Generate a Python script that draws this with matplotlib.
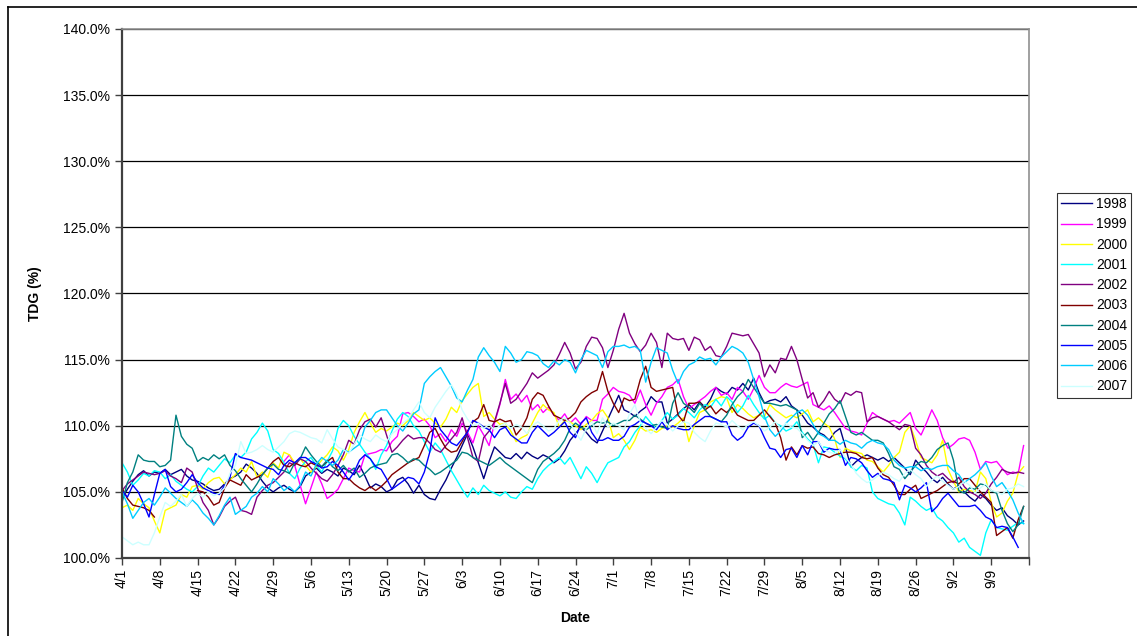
import matplotlib
matplotlib.use("Agg")
import matplotlib.pyplot as plt
import numpy as np
from matplotlib.lines import Line2D

nan = np.nan

# daily TDG (%) from 4/1, one row per week
years = ["1998", "1999", "2000", "2001", "2002", "2003", "2004", "2005", "2006", "2007"]
colors = ["#000080", "#FF00FF", "#FFFF00", "#00FFFF", "#800080",
          "#800000", "#008080", "#0000FF", "#00CCFF", "#CCFFFF"]

tick_labels = ["4/1", "4/8", "4/15", "4/22", "4/29", "5/6", "5/13", "5/20", "5/27",
               "6/3", "6/10", "6/17", "6/24", "7/1", "7/8", "7/15", "7/22", "7/29",
               "8/5", "8/12", "8/19", "8/26", "9/2", "9/9", ""]

y1998 = [
    104.5, 105.2, 105.8, 106.3, 106.6, 106.2, 106.5,
    106.4, 106.7, 106.3, 106.5, 106.7, 106.2, 105.9,
    105.8, 105.6, 105.3, 105.1, 105.2, 105.6, 106.0,
    106.2, 106.5, 107.1, 106.8, 106.4, 105.8, 105.3,
    105.0, 105.3, 105.5, 105.2, 105.0, 105.4, 106.2,
    106.5, 106.8, 106.4, 106.7, 106.5, 106.2, 106.8,
    106.6, 106.3, 107.0, 106.2, 105.3, 105.6, 105.4,
    105.0, 105.2, 105.9, 106.1, 105.6, 104.9, 105.5,
    104.8, 104.5, 104.4, 105.2, 105.9, 106.8, 107.6,
    108.5, 109.4, 108.4, 107.2, 106.0, 107.3, 108.4,
    108.0, 107.6, 107.5, 107.9, 107.5, 108.0, 107.7,
    107.5, 107.8, 107.6, 107.2, 107.5, 108.1, 108.9,
    109.4, 109.9, 109.5, 109.0, 108.7, 109.6, 110.5,
    111.4, 112.3, 111.2, 111.0, 110.7, 111.1, 111.4,
    112.2, 111.8, 111.8, 110.2, 110.5, 110.9, 111.3,
    111.6, 111.2, 111.8, 111.4, 112.0, 112.9, 112.6,
    112.4, 112.9, 112.7, 113.2, 112.7, 113.6, 112.5,
    111.7, 111.9, 112.0, 111.8, 112.2, 111.5, 111.2,
    110.8, 110.2, 109.9, 109.5, 109.3, 108.9, 109.5,
    109.8, 108.4, 106.9, 107.3, 107.6, 107.8, 107.6,
    107.4, 107.6, 107.3, 107.6, 107.2, 106.8, 106.3,
    107.4, 106.9, 106.5, 106.0, 105.7, 106.1, 105.6,
    105.2, 105.5, 105.0, 104.6, 104.3, 104.8, 104.5,
    104.0, 103.6, 103.8, 103.2, 102.9, 102.5, 102.8,
]

y1999 = [nan] * 30 + [
    107.3, 107.8, 107.0, 105.5, 104.1,
    105.3, 106.5, 105.6, 104.5, 104.8, 105.2, 106.0,
    106.8, 106.6, 106.5, 107.8, 107.9, 108.0, 108.2,
    108.1, 108.8, 109.2, 110.9, 111.0, 110.7, 110.3,
    110.5, 110.0, 109.1, 109.4, 108.8, 109.7, 109.2,
    110.2, 109.5, 108.7, 110.0, 109.3, 108.5, 110.2,
    111.6, 113.5, 112.0, 112.4, 111.8, 112.3, 111.2,
    111.6, 111.0, 111.4, 110.8, 110.4, 110.9, 110.2,
    110.6, 110.1, 110.7, 110.4, 110.4, 112.0, 112.4,
    112.9, 112.6, 112.5, 112.3, 111.7, 112.7, 111.6,
    110.8, 111.7, 112.2, 112.9, 113.1, 113.5, 112.2,
    111.3, 111.6, 111.9, 112.2, 112.6, 112.9, 112.3,
    112.5, 112.0, 112.9, 112.6, 112.0, 112.8, 113.8,
    112.9, 112.5, 112.5, 112.9, 113.2, 113.0, 112.9,
    113.1, 113.3, 111.6, 111.4, 111.2, 111.5, 111.0,
    110.4, 109.8, 109.6, 109.5, 109.3, 110.2, 111.0,
    110.7, 110.5, 110.3, 110.4, 110.2, 110.6, 111.0,
    109.8, 109.3, 110.2, 111.2, 110.4, 109.1, 108.3,
    108.6, 109.0, 109.1, 108.9, 108.0, 106.7, 107.3,
    107.2, 107.3, 106.8, 106.3, 106.5, 106.4, 108.5,
]

y2000 = [
    103.8, 104.0, 103.6, 104.5, 104.1, 103.8, 102.8,
    101.9, 103.6, 103.8, 104.0, 104.8, 104.6, 105.4,
    105.5, 105.2, 105.7, 106.0, 106.1, 105.6, 105.9,
    106.3, 106.8, 106.5, 107.3, 106.1, 106.5, 106.1,
    107.2, 106.8, 108.0, 107.8, 107.2, 107.5, 107.0,
    106.5, 106.9, 107.4, 107.8, 108.4, 108.1, 107.4,
    108.2, 109.5, 110.3, 111.0, 110.2, 109.5, 109.8,
    109.6, 109.9, 110.2, 110.0, 110.4, 111.0, 110.7,
    110.4, 110.6, 110.2, 109.9, 110.5, 111.4, 111.0,
    111.9, 112.4, 112.9, 113.2, 110.7, 111.0, 110.5,
    110.1, 110.2, 109.6, 108.8, 109.1, 109.3, 110.2,
    111.0, 111.6, 111.2, 111.0, 109.9, 110.4, 110.3,
    110.0, 109.7, 110.1, 110.4, 110.9, 111.2, 110.6,
    109.1, 109.4, 108.9, 108.2, 108.9, 109.9, 109.6,
    109.7, 109.5, 109.8, 110.0, 109.9, 110.2, 110.6,
    108.8, 110.0, 111.0, 111.2, 111.8, 112.0, 112.2,
    112.1, 111.0, 111.6, 111.3, 110.9, 110.6, 110.8,
    110.7, 111.6, 111.2, 110.9, 110.6, 110.8, 110.6,
    110.9, 111.2, 110.3, 110.6, 110.2, 109.9, 109.0,
    107.6, 108.3, 108.1, 108.0, 107.9, 107.4, 107.3,
    106.9, 106.5, 107.0, 107.6, 108.0, 109.5, 110.0,
    108.9, 107.6, 107.4, 107.2, 107.8, 108.9, 106.7,
    105.8, 105.0, 105.2, 105.1, 105.0, 106.5, 106.0,
    104.2, 103.1, 103.4, 104.3, 104.9, 106.4, 106.9,
]

y2001 = [
    107.2, 106.5, 105.5, 105.9, 106.4, 106.2, 106.6,
    106.5, 106.0, 106.3, 105.8, 105.5, 105.2, 105.0,
    105.4, 106.2, 106.8, 106.5, 107.0, 107.5, 107.2,
    107.8, 107.6, 108.0, 109.0, 109.5, 110.2, 109.6,
    108.2, 107.9, 107.2, 106.4, 106.0, 106.8, 107.3,
    107.6, 107.0, 106.5, 107.3, 108.1, 109.8, 110.4,
    110.0, 109.2, 108.6, 108.0, 107.5, 106.7, 107.8,
    108.5, 109.6, 110.5, 111.0, 110.7, 110.0, 109.6,
    108.8, 108.0, 108.7, 108.2, 107.4, 106.6, 105.9,
    105.2, 104.6, 105.3, 104.8, 105.5, 105.1, 104.9,
    104.7, 105.0, 104.6, 104.5, 105.0, 105.4, 105.2,
    106.0, 106.6, 107.0, 107.3, 107.6, 107.1, 107.6,
    106.8, 106.0, 106.9, 106.4, 105.7, 106.5, 107.2,
    107.4, 107.6, 108.4, 108.8, 109.5, 110.0, 110.7,
    110.2, 109.8, 110.4, 111.0, 110.5, 110.8, 111.3,
    111.0, 110.6, 111.2, 111.6, 111.4, 112.0, 111.5,
    112.2, 111.8, 111.0, 111.5, 112.3, 111.6, 111.0,
    110.5, 110.8, 110.2, 110.0, 109.6, 109.8, 110.3,
    109.5, 109.0, 108.6, 107.2, 108.4, 108.3, 108.0,
    107.7, 107.5, 106.9, 106.6, 107.0, 106.8, 105.0,
    104.5, 104.3, 104.1, 104.0, 103.4, 102.5, 104.6,
    104.3, 103.9, 103.6, 103.8, 103.1, 102.8, 102.3,
    101.9, 101.2, 101.5, 100.8, 100.5, 100.2, 101.9,
    102.9, 102.3, 102.2, 102.1, 102.4, 102.7, 102.6,
]

y2002 = [
    105.1, 105.6, 105.9, 106.2, 106.5, 106.4, 106.3,
    106.4, 106.6, 106.2, 106.0, 105.7, 106.8, 106.5,
    105.3, 104.2, 103.6, 102.5, 103.1, 103.9, 104.3,
    104.6, 103.6, 103.5, 103.3, 104.6, 105.1, 105.5,
    105.7, 106.1, 106.5, 107.2, 107.0, 107.5, 107.3,
    106.8, 106.4, 106.0, 105.8, 106.3, 107.0, 107.8,
    108.9, 108.6, 109.7, 110.3, 110.5, 109.9, 110.6,
    109.3, 108.0, 108.4, 108.9, 109.3, 109.0, 109.1,
    109.1, 108.7, 108.2, 108.0, 108.5, 109.0, 109.5,
    110.6, 109.1, 107.6, 107.3, 109.1, 109.6, 110.3,
    111.7, 113.2, 111.7, 112.0, 112.6, 113.2, 114.0,
    113.6, 113.9, 114.2, 114.6, 115.4, 116.3, 115.5,
    114.3, 114.8, 116.0, 116.7, 116.6, 115.9, 114.4,
    115.7, 117.3, 118.5, 117.0, 116.2, 115.6, 116.1,
    117.0, 116.3, 114.4, 117.0, 116.6, 116.5, 116.6,
    115.7, 116.7, 116.5, 115.7, 116.0, 115.3, 115.2,
    116.0, 117.0, 116.9, 116.8, 116.9, 116.2, 115.5,
    113.7, 114.6, 114.0, 115.1, 115.0, 116.0, 115.0,
    113.5, 112.1, 112.5, 111.4, 111.9, 112.6, 112.0,
    111.7, 112.5, 112.3, 112.6, 112.5, 110.3, 110.6,
    110.7, 110.5, 110.3, 110.0, 109.7, 110.1, 110.0,
    108.3, 107.8, 107.0, 106.5, 106.2, 106.4, 106.0,
    105.7, 106.1, 105.4, 105.0, 104.8, 104.5, 104.9,
    105.6, 106.1, 106.7, 106.5, 106.4, 106.5, 106.4,
]

y2003 = [
    105.3, 104.5, 104.0, 103.9, 103.8, 103.6, 103.1,
    nan, nan, nan, nan, nan, nan, nan,
    105.1, 105.0, 104.6, 104.0, 104.2, 105.3, 105.9,
    105.7, 105.5, 106.3, 105.9, 106.1, 106.3, 106.8,
    107.3, 107.6, 107.0, 106.9, 107.2, 107.0, 106.9,
    107.2, 107.0, 106.9, 107.3, 107.6, 106.5, 106.0,
    106.0, 105.6, 105.3, 105.1, 105.4, 105.1, 105.4,
    105.8, 106.3, 106.6, 106.9, 107.2, 107.4, 107.6,
    108.5, 109.5, 109.8, 109.0, 108.3, 108.0, 108.1,
    108.8, 109.6, 110.3, 110.6, 111.6, 110.4, 110.3,
    110.5, 110.3, 110.4, 109.3, 109.8, 110.6, 112.0,
    112.5, 112.3, 111.5, 110.8, 110.6, 110.4, 110.6,
    111.0, 111.8, 112.2, 112.5, 112.7, 114.1, 112.6,
    111.7, 111.0, 112.1, 111.9, 112.0, 113.5, 114.5,
    112.9, 112.6, 112.7, 112.8, 112.9, 110.8, 110.3,
    111.7, 111.7, 111.8, 111.2, 111.5, 110.9, 111.3,
    111.0, 111.4, 110.8, 110.6, 110.4, 110.4, 110.8,
    111.2, 110.7, 110.2, 109.1, 107.4, 108.4, 107.8,
    108.5, 108.3, 108.4, 107.9, 107.8, 107.6, 107.8,
    107.9, 108.0, 108.0, 107.9, 107.6, 107.5, 107.6,
    106.8, 106.3, 106.1, 105.5, 104.8, 104.8, 105.2,
    105.5, 104.5, 104.7, 104.9, 105.1, 105.4, 105.7,
    105.8, 105.6, 106.0, 106.0, 105.5, 105.0, 104.6,
    104.2, 101.7, 102.0, 102.3, 101.5, 102.9, 103.9,
]

y2004 = [
    104.2, 105.7, 106.5, 107.8, 107.4, 107.3, 107.3,
    106.9, 107.0, 107.4, 110.8, 109.2, 108.6, 108.3,
    107.3, 107.6, 107.4, 107.8, 107.5, 107.8, 107.0,
    106.6, 106.0, 105.5, 105.0, 105.6, 106.3, 106.8,
    107.1, 106.7, 106.6, 106.4, 107.2, 107.5, 108.4,
    107.8, 107.3, 106.9, 107.4, 106.9, 106.6, 107.0,
    106.5, 106.8, 106.1, 106.4, 106.8, 107.0, 107.1,
    107.2, 107.8, 107.9, 107.6, 107.2, 107.5, 107.4,
    107.0, 106.7, 106.3, 106.5, 106.8, 107.1, 107.4,
    108.0, 107.9, 107.6, 107.4, 107.2, 107.0, 107.3,
    107.6, 107.2, 106.9, 106.6, 106.3, 106.0, 105.7,
    106.7, 107.3, 107.6, 107.9, 108.3, 108.9, 109.8,
    110.2, 109.9, 109.7, 110.0, 110.3, 110.2, 110.3,
    110.0, 110.2, 110.4, 110.4, 110.8, 110.5, 110.2,
    110.0, 110.1, 109.9, 109.8, 111.7, 112.5, 111.7,
    111.4, 111.0, 111.7, 111.2, 110.7, 110.5, 110.3,
    110.8, 111.6, 112.2, 112.6, 113.5, 112.9, 112.3,
    111.7, 111.7, 111.6, 111.5, 111.6, 111.4, 111.2,
    109.1, 109.5, 108.9, 109.5, 110.2, 110.9, 111.3,
    111.9, 110.7, 109.5, 109.3, 109.5, 109.2, 108.9,
    108.9, 108.7, 107.9, 106.9, 106.7, 106.0, 106.5,
    107.0, 107.3, 107.2, 107.6, 108.2, 108.5, 108.7,
    107.4, 105.1, 104.9, 105.3, 105.2, 105.6, 105.5,
    105.1, 104.9, 103.6, 102.6, 102.0, 102.5, 103.9,
]

y2005 = [
    105.1, 104.6, 105.5, 105.0, 104.1, 103.1, 104.8,
    106.4, 106.7, 105.4, 105.0, 105.2, 105.7, 106.3,
    105.7, 105.3, 105.1, 104.9, 104.8, 105.5, 106.1,
    107.9, 107.6, 107.5, 107.4, 107.2, 107.0, 106.8,
    106.7, 106.3, 107.0, 107.4, 107.2, 107.6, 107.6,
    107.3, 107.1, 106.8, 106.9, 107.3, 107.0, 106.5,
    105.9, 106.5, 107.4, 107.8, 107.5, 106.9, 106.7,
    106.0, 105.2, 105.5, 105.8, 106.1, 106.0, 105.6,
    106.5, 108.0, 110.6, 109.7, 109.2, 108.7, 108.5,
    109.0, 109.5, 110.4, 110.2, 109.9, 109.7, 109.1,
    109.7, 109.9, 109.3, 109.0, 108.7, 108.7, 109.5,
    110.0, 109.6, 109.2, 109.5, 109.9, 110.3, 109.5,
    109.1, 110.2, 110.6, 109.5, 108.9, 108.9, 109.1,
    108.9, 108.9, 109.2, 109.9, 110.1, 110.4, 110.2,
    110.0, 109.7, 110.3, 109.7, 110.0, 109.8, 109.7,
    109.7, 110.1, 110.4, 110.7, 110.7, 110.5, 110.3,
    110.3, 109.3, 108.9, 109.2, 109.9, 110.2, 110.0,
    109.1, 108.3, 108.2, 107.6, 108.2, 108.3, 107.6,
    108.5, 107.8, 108.8, 108.8, 108.0, 108.3, 108.2,
    108.2, 107.0, 107.6, 107.5, 107.2, 106.6, 106.1,
    106.4, 106.0, 105.9, 105.7, 104.4, 105.5, 105.3,
    105.0, 105.3, 105.7, 103.5, 103.9, 104.5, 104.9,
    104.4, 103.9, 103.9, 103.9, 104.0, 103.6, 103.1,
    102.9, 102.3, 102.4, 102.3, 101.6, 100.8, nan,
]

y2006 = [
    105.0, 104.1, 103.0, 103.6, 104.2, 104.5, 104.0,
    104.6, 105.3, 104.9, 104.5, 104.2, 103.9, 104.4,
    104.0, 103.4, 103.0, 102.5, 103.2, 104.0, 104.6,
    103.3, 103.6, 103.9, 104.6, 104.9, 105.4, 105.0,
    106.0, 105.6, 105.1, 105.4, 105.0, 105.5, 106.5,
    106.2, 107.1, 107.6, 107.3, 107.0, 107.4, 108.2,
    108.0, 108.3, 108.6, 109.9, 110.4, 111.0, 111.2,
    111.2, 110.6, 110.0, 109.6, 110.2, 110.9, 111.2,
    113.2, 113.7, 114.1, 114.4, 113.7, 113.0, 112.1,
    111.8, 112.7, 113.5, 115.2, 115.9, 115.3, 114.8,
    114.1, 116.0, 115.5, 114.8, 115.0, 115.6, 115.5,
    115.3, 114.7, 114.4, 114.9, 114.6, 115.0, 114.8,
    114.0, 115.0, 115.7, 115.5, 115.3, 114.4, 115.6,
    116.0, 116.0, 116.1, 115.9, 116.0, 115.7, 113.3,
    114.8, 115.9, 115.7, 115.5, 114.2, 113.2, 114.1,
    114.6, 114.8, 115.2, 115.0, 115.1, 114.6, 115.2,
    115.6, 116.0, 115.8, 115.5, 114.8, 113.5, 112.2,
    110.7, 109.7, 109.2, 109.6, 110.2, 110.6, 111.0,
    111.2, 110.8, 110.1, 109.4, 109.2, 108.9, 108.9,
    108.6, 108.9, 108.7, 108.6, 108.3, 108.7, 108.9,
    108.7, 108.6, 108.2, 107.4, 107.0, 106.8, 106.9,
    106.9, 106.6, 106.8, 106.7, 106.9, 107.0, 107.0,
    106.6, 106.3, 105.7, 106.0, 106.3, 106.7, 107.2,
    106.2, 105.4, 105.7, 105.1, 104.4, 103.4, 102.6,
]

y2007 = [
    101.6, 101.3, 101.0, 101.2, 101.0, 101.0, 101.9,
    103.1, 104.2, 103.9, 104.3, 104.8, 103.9, 104.5,
    104.9, 104.6, 105.0, 104.7, 104.9, 105.3, 106.4,
    107.0, 108.8, 107.9, 108.0, 108.2, 108.5, 108.2,
    108.0, 108.4, 108.8, 109.4, 109.6, 109.5, 109.3,
    109.1, 109.0, 108.7, 109.7, 109.0, 108.4, 108.2,
    107.9, 108.6, 109.3, 109.0, 108.8, 109.3, 109.0,
    108.8, 109.4, 109.7, 110.2, 110.5, 111.2, 111.8,
    111.0, 110.6, 111.4, 112.0, 112.6, 113.1, 112.4,
    111.2, 110.5, 110.0, 110.2, 109.8, 110.1, 109.7,
    110.0, 110.2, 109.8, 110.1, 109.9, 109.4, 110.0,
    110.3, 110.0, 109.6, 109.8, 110.4, 110.6, 110.2,
    109.5, 108.9, 109.8, 110.3, 109.4, 110.6, 109.9,
    110.2, 110.0, 109.7, 110.9, 111.6, 110.3, 109.8,
    109.4, 109.9, 110.4, 110.1, 109.6, 110.0, 110.3,
    110.2, 109.5, 109.1, 108.8, 109.6, 110.2, 110.1,
    109.9, 110.4, 110.0, 109.7, 110.1, 110.3, 110.0,
    109.6, 109.9, 110.3, 109.8, 110.2, 109.9, 109.8,
    109.4, 108.9, 108.5, 108.8, 108.2, 108.0, 107.9,
    108.2, 107.6, 107.1, 106.4, 106.0, 105.7, 105.9,
    106.2, 106.5, 106.3, 106.0, 105.8, 106.4, 106.7,
    106.3, 106.0, 105.4, 105.9, 106.2, 105.8, 105.5,
    105.2, 105.4, 105.8, 105.5, 104.9, 105.3, 105.6,
    105.1, 105.0, 104.8, 105.2, 105.3, 105.6, 105.4,
]

series = [y1998, y1999, y2000, y2001, y2002, y2003, y2004, y2005, y2006, y2007]

plt.rcParams['font.family'] = ['Liberation Sans', 'DejaVu Sans']

fig = plt.figure(figsize=(11.37, 6.36), dpi=100)
ax = fig.add_axes([122 / 1137, 1 - 558 / 636, 907 / 1137, 529 / 636])

for ys, yr, c in zip(series, years, colors):
    ax.plot(np.arange(len(ys)), ys, color=c, lw=1.0, label=yr)

ax.set_xlim(0, 168)
ax.set_ylim(100, 140)
ax.set_yticks(np.arange(100, 140.1, 5))
ax.set_yticklabels(["%.1f%%" % v for v in np.arange(100, 140.1, 5)], fontsize=10)
ax.set_xticks(np.arange(0, 169, 7))
ax.set_xticklabels(tick_labels, rotation=90, fontsize=10)
ax.tick_params(axis="both", direction="out", length=5, width=1, color="#404040")
ax.tick_params(axis="x", pad=3)

ax.yaxis.grid(True, color="black", lw=0.9)
ax.set_axisbelow(True)
ax.spines["left"].set_color("#404040")
ax.spines["left"].set_linewidth(1.6)
ax.spines["bottom"].set_color("#404040")
ax.spines["bottom"].set_linewidth(1.6)
ax.spines["right"].set_color("#909090")
ax.spines["right"].set_linewidth(1.2)
ax.spines["top"].set_color("#909090")
ax.spines["top"].set_linewidth(1.2)

ax.set_ylabel("TDG (%)", fontsize=10, fontweight="bold")
ax.yaxis.set_label_coords(-0.088, 0.5)
ax.set_xlabel("Date", fontsize=10, fontweight="bold")
ax.xaxis.set_label_coords(0.5, -0.1)

leg = ax.legend(loc="upper left", bbox_to_anchor=(1057 / 1137, 1 - 193 / 636),
                bbox_transform=fig.transFigure, borderaxespad=0, fontsize=10,
                frameon=True, fancybox=False, edgecolor="black", handlelength=2.2,
                handletextpad=0.3, labelspacing=0.45, borderpad=0.3)
leg.get_frame().set_linewidth(0.8)

# outer chart border (left and top edges only are inside the picture)
bx, by = 7.5 / 1137, 1 - 6.5 / 636
fig.add_artist(Line2D([bx, bx], [0, by], transform=fig.transFigure, color="black", lw=1.2))
fig.add_artist(Line2D([bx, 1], [by, by], transform=fig.transFigure, color="black", lw=1.2))

fig.savefig("out.png", dpi=100)
